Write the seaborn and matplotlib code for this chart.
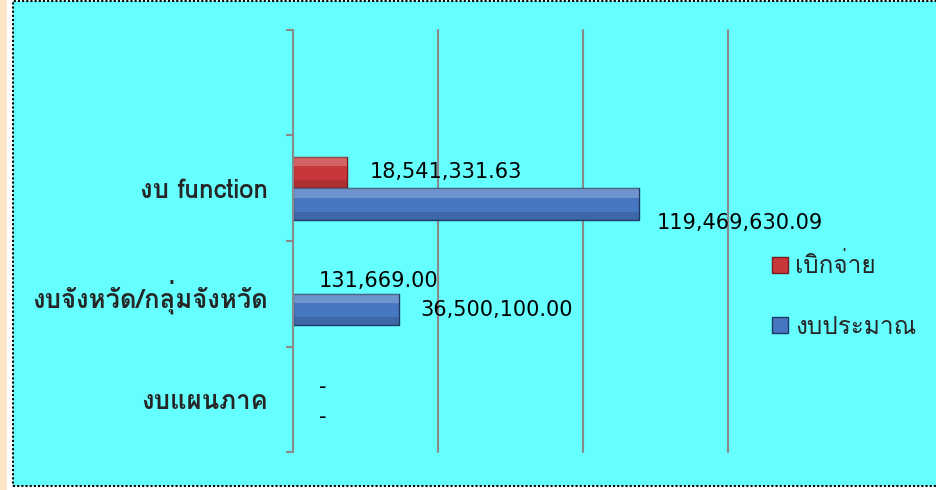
# horizontal bar chart: budget vs disbursement by budget type
import numpy as np
import pandas as pd
import matplotlib
matplotlib.use('Agg')
import matplotlib.pyplot as plt
import matplotlib.patches as mpatches
from matplotlib import font_manager
from matplotlib.ft2font import FT2Font
import seaborn as sns

# data, top to bottom (first slot is an empty category in the original)
categories = ['', 'งบ function', 'งบจังหวัด/กลุ่มจังหวัด', 'งบแผนภาค']
series = ['เบิกจ่าย', 'งบประมาณ']
disbursed = [18541331.63, 131669.00, 0.0]
budget = [119469630.09, 36500100.00, 0.0]
grid_values = [50e6, 100e6, 150e6]

colors = {'เบิกจ่าย': '#C8383A', 'งบประมาณ': '#4677C0'}
edges = {'เบิกจ่าย': '#7A1A1A', 'งบประมาณ': '#1E3A66'}

# label offsets in pixels (dx, dy) per series, per category (dy up is positive)
label_offsets = {
    'เบิกจ่าย': [(23, 0), (25, -3), (26, -4)],
    'งบประมาณ': [(17, -19), (22, 0), (26, -2)],
}


def find_thai_font(bold=False):
    # search the installed fonts for one that has thai glyphs
    best = None
    for f in font_manager.fontManager.ttflist:
        try:
            cmap = FT2Font(f.fname).get_charmap()
        except Exception:
            continue
        if 0x0E01 in cmap and 0x0E07 in cmap:
            if best is None:
                best = f.name
            if bold and f.weight in ('bold', 700):
                return f.name
    return best


thai = find_thai_font()
fams = ([thai] if thai else []) + ['DejaVu Sans']

sns.set_style('white')
plt.rcParams['font.family'] = fams

df = pd.DataFrame({
    'category': categories[1:] * 2,
    'series': [series[0]] * len(disbursed) + [series[1]] * len(budget),
    'amount': disbursed + budget,
})

fig = plt.figure(figsize=(9.36, 4.9), dpi=100)
fig.patch.set_facecolor('white')
W, H = 936.0, 490.0

# page background: beige strip, cyan panel with dotted border
fig.patches.append(mpatches.Rectangle((0, 0), 7 / W, 1, transform=fig.transFigure,
                                      facecolor='#FFE6C6', edgecolor='none', zorder=-2))
fig.patches.append(mpatches.Rectangle((13 / W, 1 - 486 / H), 1.0, (486 - 1) / H,
                                      transform=fig.transFigure, facecolor='#66FFFF',
                                      edgecolor='black', linewidth=1.5,
                                      linestyle=(0, (1, 1)), zorder=-2))

ax = fig.add_axes([293 / W, 1 - 452 / H, (728 - 293) / W, (452 - 30) / H])
ax.patch.set_visible(False)

sns.barplot(data=df, y='category', x='amount', hue='series', order=categories,
            hue_order=series, orient='h', width=0.6, palette=colors,
            legend=False, ax=ax, linewidth=1.0, saturation=1)

vmax = max(budget + disbursed)
for cont, s in zip(ax.containers, series):
    for i, p in enumerate(cont.patches):
        p.set_edgecolor(edges[s])
        x0, y0, w, h = p.get_x(), p.get_y(), p.get_width(), p.get_height()
        if w < vmax * 0.01:
            # too thin to show in the original
            p.set_linewidth(0)
        else:
            # simple bevel highlight
            ax.add_patch(mpatches.Rectangle((x0, y0), w, h * 0.3, facecolor='white',
                                            alpha=0.22, edgecolor='none', zorder=p.get_zorder() + 0.1))
            ax.add_patch(mpatches.Rectangle((x0, y0 + h * 0.75), w, h * 0.25, facecolor='black',
                                            alpha=0.12, edgecolor='none', zorder=p.get_zorder() + 0.1))
        val = w
        txt = '-' if val == 0 else f'{val:,.2f}'
        dx, dy = label_offsets[s][i]
        ax.annotate(txt, (val, y0 + h / 2), xytext=(dx, dy), textcoords='offset pixels',
                    ha='left', va='center', fontsize=15, color='black',
                    family='DejaVu Sans')

ax.set_xlim(0, 150e6)
ax.set_ylim(len(categories) - 0.5, -0.5)

for g in grid_values:
    ax.axvline(g, color='#8A8A8A', linewidth=1.5, zorder=0, clip_on=False)

for sp in ['top', 'right', 'bottom']:
    ax.spines[sp].set_visible(False)
ax.spines['left'].set_color('#8A8A8A')
ax.spines['left'].set_linewidth(1.5)

ax.set_xticks([])
ax.set_xlabel('')
ax.set_ylabel('')

# tick marks at category boundaries, labels at centres
ax.set_yticks(np.arange(len(categories) + 1) - 0.5)
ax.set_yticklabels([])
ax.tick_params(axis='y', which='major', length=5, width=1.5, color='#8A8A8A', left=True)
ax.set_yticks(np.arange(len(categories)), minor=True)
ax.set_yticklabels(categories, minor=True, fontsize=18.5, fontweight='bold')
ax.tick_params(axis='y', which='minor', length=0, pad=18)

handles = [mpatches.Patch(facecolor=colors[s], edgecolor=edges[s], label=s) for s in series]
fig.legend(handles=handles, loc='center left', bbox_to_anchor=(750 / W, 1 - 296 / H),
           frameon=False, fontsize=17.5, handlelength=0.65, handleheight=0.65,
           handletextpad=0.3, labelspacing=1.55)

fig.savefig('out.png', dpi=100)
